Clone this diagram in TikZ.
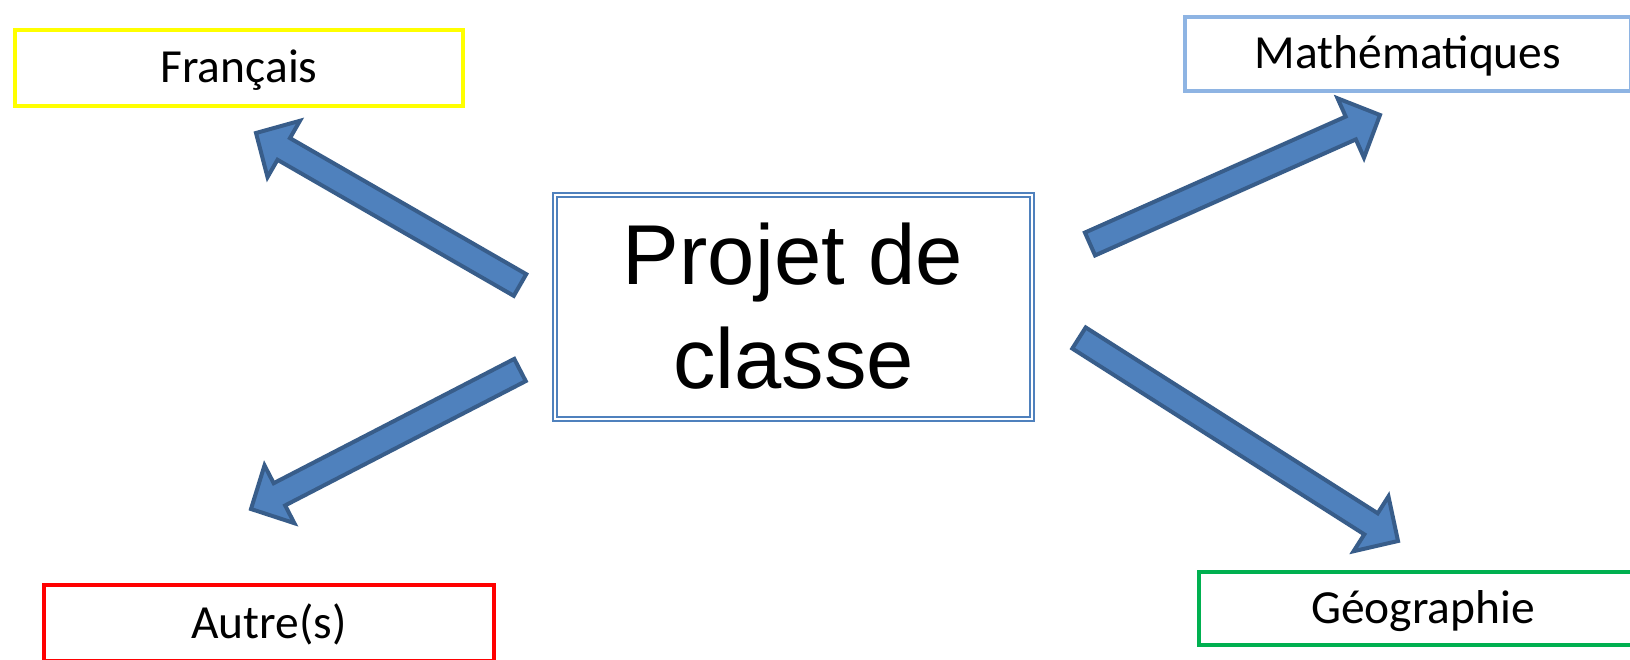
\documentclass[tikz,border=0pt]{standalone}
\usepackage{fontspec}
\setmainfont{Carlito}
\newfontfamily\arialfont{Liberation Sans}
\usetikzlibrary{calc}
\definecolor{arrfill}{HTML}{4F81BD}
\definecolor{arrline}{HTML}{385D8A}
\definecolor{ctrline}{HTML}{4F81BD}
\definecolor{mathblue}{HTML}{8EB4E3}
\definecolor{geogreen}{HTML}{00B050}
\definecolor{frjaune}{HTML}{FFFF00}
\definecolor{autrouge}{HTML}{FF0000}
\tikzset{
  subj/.style={draw, line width=4pt, fill=white, minimum height=76pt, text height=31pt, text depth=1pt, inner sep=0pt, font=\fontsize{47.5}{52}\selectfont},
  ctrbox/.style={draw=ctrline, double=white, double distance=2pt, line width=1.6pt, minimum width=477pt, minimum height=224pt, inner sep=0pt},
  ctrtext/.style={font=\arialfont\fontsize{85}{100}\selectfont, anchor=base, inner sep=0pt},
  blockarrow/.style={fill=arrfill, draw=arrline, line width=4pt, line join=miter},
}
\newcommand{\blockarr}[3]{%
  \coordinate (#3) at ($(#2)!32pt!(#1)$);
  \filldraw[blockarrow] ($(#1)!12.5pt!90:(#2)$) -- ($(#3)!12.5pt!90:(#2)$) -- ($(#3)!32.5pt!90:(#2)$) -- (#2) -- ($(#3)!32.5pt!-90:(#2)$) -- ($(#3)!12.5pt!-90:(#2)$) -- ($(#1)!12.5pt!-90:(#2)$) -- cycle;}
\begin{document}
\begin{tikzpicture}[x=1pt,y=-1pt]
  \useasboundingbox (0,0) rectangle (1630,660);
  \clip (0,0) rectangle (1630,660);
  % subject boxes
  \node[subj, draw=frjaune, minimum width=448pt] (fr) at (239,68) {Français};
  \node[subj, draw=mathblue, minimum width=446pt, minimum height=74pt] (ma) at (1408,54) {Mathématiques};
  \node[subj, draw=geogreen, minimum width=448pt, minimum height=73pt] (ge) at (1423,608.5) {Géographie};
  \node[subj, draw=autrouge, minimum width=450pt] (au) at (269,623) {Autre(s)};
  % centre
  \node[ctrbox] (c) at (793.5,307) {};
  \node[ctrtext] (c1) at (793,285) {Projet de};
  \node[ctrtext] (c2) at (793.5,388) {classe};
  % block arrows
  \coordinate (t1) at (520,285); \coordinate (h1) at (256,133);
  \coordinate (t2) at (520,370); \coordinate (h2) at (251,509);
  \coordinate (t3) at (1090,244); \coordinate (h3) at (1380,115);
  \coordinate (t4) at (1079,338); \coordinate (h4) at (1398,541);
  \blockarr{t1}{h1}{b1}
  \blockarr{t2}{h2}{b2}
  \blockarr{t3}{h3}{b3}
  \blockarr{t4}{h4}{b4}
\end{tikzpicture}
\end{document}
